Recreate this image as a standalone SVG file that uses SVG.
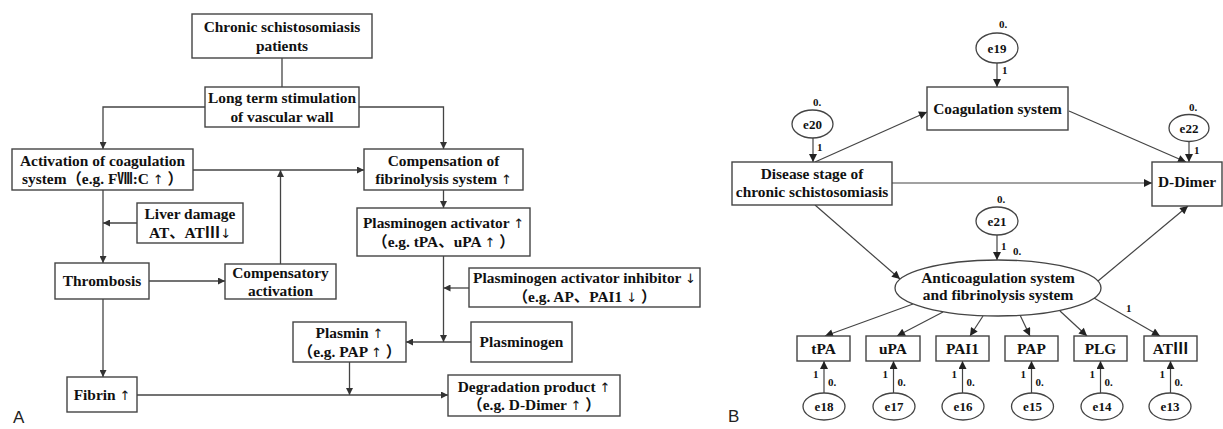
<svg xmlns="http://www.w3.org/2000/svg" width="1223" height="429" viewBox="0 0 1223 429">
<style>
.bx{fill:#fff;stroke:#444;stroke-width:1.4}
.el{fill:#fff;stroke:#444;stroke-width:1.3}
.t{font-family:"Liberation Serif","Noto Sans CJK SC",serif;font-weight:bold;font-size:15.4px;fill:#111;text-anchor:middle}
.e{font-family:"Liberation Serif","Noto Sans CJK SC",serif;font-weight:bold;font-size:13px;fill:#111;text-anchor:middle}
.s{font-family:"Liberation Serif",serif;font-weight:bold;font-size:11px;fill:#111}
.p{font-family:"Liberation Sans",Arial,sans-serif;font-size:17px;fill:#222}
.u{font-family:"DejaVu Sans",sans-serif;font-weight:normal;font-size:13px;fill:#111}
.ln{fill:none;stroke:#444;stroke-width:1.3}
.ar{fill:none;stroke:#444;stroke-width:1.3;marker-end:url(#ah)}
.ar2{fill:none;stroke:#444;stroke-width:1.2;marker-end:url(#ah2)}
</style>
<defs>
<marker id="ah" viewBox="0 0 10 10" refX="10" refY="5" markerWidth="8" markerHeight="7" markerUnits="userSpaceOnUse" orient="auto"><path d="M0,0 L10,5 L0,10 z" fill="#333"/></marker>
<marker id="ah2" viewBox="0 0 10 10" refX="10" refY="5" markerWidth="11" markerHeight="8" markerUnits="userSpaceOnUse" orient="auto"><path d="M0,0 L10,5 L0,10 z" fill="#222"/></marker>
</defs>
<rect width="1223" height="429" fill="#fff"/>

<g id="connectors-A">
<path class="ln" d="M282,58 V87"/>
<path class="ar" d="M205,107 H103 V149"/>
<path class="ar" d="M359,107 H443.5 V149"/>
<path class="ar" d="M193,170 H364"/>
<path class="ar" d="M280.5,264 V170"/>
<path class="ar" d="M137,223 H103"/>
<path class="ar" d="M103,190 V263"/>
<path class="ar" d="M149,281 H225"/>
<path class="ar" d="M103,299 V377"/>
<path class="ar" d="M443.5,190 V208"/>
<path class="ar" d="M443.5,256 V342"/>
<path class="ar" d="M469,288 H443.5"/>
<path class="ar" d="M471,342 H406"/>
<path class="ar" d="M349.5,362 V395"/>
<path class="ar" d="M137,395 H448"/>
</g>

<g id="n-chronic"><rect class="bx" x="192" y="14" width="180" height="44"/><text class="t" x="282" y="32">Chronic schistosomiasis</text><text class="t" x="282" y="50.5">patients</text></g>
<g id="n-longterm"><rect class="bx" x="205" y="87" width="154" height="40"/><text class="t" x="282" y="103">Long term stimulation</text><text class="t" x="282" y="121.5">of vascular wall</text></g>
<g id="n-activation"><rect class="bx" x="12" y="149" width="181" height="41"/><text class="t" x="102.5" y="165.5">Activation of coagulation</text><text class="t" x="102.5" y="184">system（e.g. FⅧ:C <tspan class="u">↑</tspan> ）</text></g>
<g id="n-compensation"><rect class="bx" x="364" y="149" width="159" height="41"/><text class="t" x="443.5" y="165.5">Compensation of</text><text class="t" x="443.5" y="184">fibrinolysis system <tspan class="u">↑</tspan></text></g>
<g id="n-liver"><rect class="bx" x="137" y="203" width="106" height="40"/><text class="t" x="190" y="219">Liver damage</text><text class="t" x="190" y="237.5">AT、ATⅢ<tspan class="u">↓</tspan></text></g>
<g id="n-pa"><rect class="bx" x="357" y="208" width="173" height="48"/><text class="t" x="443.5" y="228">Plasminogen activator <tspan class="u">↑</tspan></text><text class="t" x="443.5" y="246.5">（e.g. tPA、uPA <tspan class="u">↑</tspan> ）</text></g>
<g id="n-thrombosis"><rect class="bx" x="55" y="263" width="94" height="36"/><text class="t" x="102" y="286">Thrombosis</text></g>
<g id="n-compensatory"><rect class="bx" x="225" y="264" width="111" height="35"/><text class="t" x="280.5" y="277.5">Compensatory</text><text class="t" x="280.5" y="296">activation</text></g>
<g id="n-pai"><rect class="bx" x="469" y="268" width="231" height="39"/><text class="t" x="584.5" y="282.5">Plasminogen activator inhibitor <tspan class="u">↓</tspan></text><text class="t" x="584.5" y="301.5">（e.g. AP、PAI1 <tspan class="u">↓</tspan> ）</text></g>
<g id="n-plasmin"><rect class="bx" x="293" y="322" width="113" height="40"/><text class="t" x="349.5" y="337.5">Plasmin <tspan class="u">↑</tspan></text><text class="t" x="349.5" y="356.5">（e.g. PAP <tspan class="u">↑</tspan> ）</text></g>
<g id="n-plasminogen"><rect class="bx" x="471" y="322" width="101" height="40"/><text class="t" x="521.5" y="347">Plasminogen</text></g>
<g id="n-fibrin"><rect class="bx" x="67" y="377" width="70" height="35"/><text class="t" x="102" y="399.5">Fibrin <tspan class="u">↑</tspan></text></g>
<g id="n-degradation"><rect class="bx" x="448" y="375" width="172" height="41"/><text class="t" x="534" y="391.5">Degradation product  <tspan class="u">↑</tspan></text><text class="t" x="534" y="410">（e.g. D-Dimer <tspan class="u">↑</tspan> ）</text></g>
<text class="p" x="13" y="423">A</text>

<g id="connectors-B">
<path class="ar2" d="M997,63 V87"/>
<path class="ar2" d="M813,138 V162"/>
<path class="ar2" d="M1189,141.5 V162"/>
<path class="ar2" d="M815,162 L927,112"/>
<path class="ar2" d="M1069,111 L1186,162"/>
<path class="ar2" d="M892,183 H1152"/>
<path class="ar2" d="M815,205 L900,279"/>
<path class="ar2" d="M1098,281 L1188,206"/>
<path class="ar2" d="M997,235 V260"/>
<path class="ar2" d="M913,304 L825,336"/>
<path class="ar2" d="M943,312 L897,336"/>
<path class="ar2" d="M983,316 L970,336"/>
<path class="ar2" d="M1020,315 L1030,336"/>
<path class="ar2" d="M1060,311 L1087,336"/>
<path class="ar2" d="M1094,298 L1160,336"/>
<path class="ar2" d="M824,393 V361"/>
<path class="ar2" d="M893.5,393 V361"/>
<path class="ar2" d="M962.5,393 V361"/>
<path class="ar2" d="M1031.5,393 V361"/>
<path class="ar2" d="M1100.5,393 V361"/>
<path class="ar2" d="M1170.5,393 V361"/>
</g>

<g id="n-e19"><ellipse class="el" cx="997" cy="48" rx="21" ry="15"/><text class="e" x="997" y="52.5">e19</text><text class="s" x="999" y="28">0.</text><text class="s" x="1002" y="74">1</text></g>
<g id="n-coag"><rect class="bx" x="927" y="87" width="141" height="43"/><text class="t" x="997.5" y="113.5">Coagulation system</text></g>
<g id="n-e20"><ellipse class="el" cx="812.5" cy="124" rx="20.5" ry="14"/><text class="e" x="812.5" y="128.5">e20</text><text class="s" x="813" y="106">0.</text><text class="s" x="817" y="151">1</text></g>
<g id="n-disease"><rect class="bx" x="732" y="162" width="160" height="43"/><text class="t" x="812" y="179">Disease stage of</text><text class="t" x="812" y="196.5">chronic schistosomiasis</text></g>
<g id="n-e22"><ellipse class="el" cx="1189" cy="128" rx="20" ry="13.5"/><text class="e" x="1189" y="132.5">e22</text><text class="s" x="1189" y="111">0.</text><text class="s" x="1194" y="154">1</text></g>
<g id="n-ddimer"><rect class="bx" x="1152" y="162" width="70" height="44"/><text class="t" x="1187" y="187">D-Dimer</text></g>
<g id="n-e21"><ellipse class="el" cx="997" cy="221" rx="21" ry="14"/><text class="e" x="997" y="225.5">e21</text><text class="s" x="997" y="203">0.</text><text class="s" x="1001" y="250">1</text><text class="s" x="1013" y="255">0.</text></g>
<g id="n-anticoag"><ellipse class="el" cx="998" cy="288" rx="103" ry="28"/><text class="t" x="998" y="283">Anticoagulation system</text><text class="t" x="998" y="300">and fibrinolysis system</text></g>
<text class="s" x="1126" y="312">1</text>

<g id="n-tpa"><rect class="bx" x="797" y="336" width="53" height="25"/><text class="t" x="823.5" y="354">tPA</text></g>
<g id="n-upa"><rect class="bx" x="866" y="336" width="54" height="25"/><text class="t" x="893" y="354">uPA</text></g>
<g id="n-pai1"><rect class="bx" x="936" y="336" width="53" height="25"/><text class="t" x="962.5" y="354">PAI1</text></g>
<g id="n-pap"><rect class="bx" x="1005" y="336" width="53" height="25"/><text class="t" x="1031.5" y="354">PAP</text></g>
<g id="n-plg"><rect class="bx" x="1074" y="336" width="53" height="25"/><text class="t" x="1100.5" y="354">PLG</text></g>
<g id="n-at3"><rect class="bx" x="1144" y="336" width="53" height="25"/><text class="t" x="1170.5" y="354">ATⅢ</text></g>

<g id="n-e18"><ellipse class="el" cx="824" cy="406.5" rx="21" ry="13.5"/><text class="e" x="824" y="411">e18</text><text class="s" x="813" y="378">1</text><text class="s" x="828" y="386">0.</text></g>
<g id="n-e17"><ellipse class="el" cx="894" cy="406.5" rx="21" ry="13.5"/><text class="e" x="894" y="411">e17</text><text class="s" x="882.5" y="378">1</text><text class="s" x="897.5" y="386">0.</text></g>
<g id="n-e16"><ellipse class="el" cx="963" cy="406.5" rx="21" ry="13.5"/><text class="e" x="963" y="411">e16</text><text class="s" x="951.5" y="378">1</text><text class="s" x="966.5" y="386">0.</text></g>
<g id="n-e15"><ellipse class="el" cx="1032.5" cy="406.5" rx="21" ry="13.5"/><text class="e" x="1032.5" y="411">e15</text><text class="s" x="1020.5" y="378">1</text><text class="s" x="1035.5" y="386">0.</text></g>
<g id="n-e14"><ellipse class="el" cx="1102" cy="406.5" rx="21" ry="13.5"/><text class="e" x="1102" y="411">e14</text><text class="s" x="1089.5" y="378">1</text><text class="s" x="1104.5" y="386">0.</text></g>
<g id="n-e13"><ellipse class="el" cx="1170" cy="406.5" rx="21" ry="13.5"/><text class="e" x="1170" y="411">e13</text><text class="s" x="1159.5" y="378">1</text><text class="s" x="1174.5" y="386">0.</text></g>
<text class="p" x="728" y="422">B</text>
</svg>
